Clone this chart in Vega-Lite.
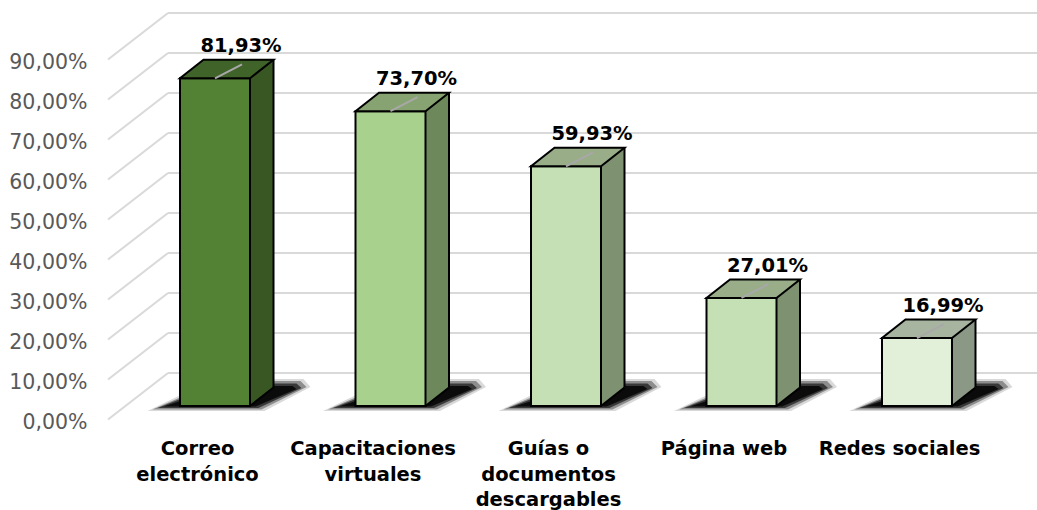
{
  "$schema": "https://vega.github.io/schema/vega-lite/v6.json",
  "width": 869,
  "height": 360,
  "autosize": "none",
  "padding": {"left": 168, "top": 13, "right": 0, "bottom": 137},
  "background": "white",
  "config": {
    "view": {"stroke": null},
    "locale": {"number": {"decimal": ",", "thousands": ".", "grouping": [3], "currency": ["", " €"]}}
  },
  "datasets": {
    "bars": [
      {"medio": "Correo electrónico", "pct": 0.8193},
      {"medio": "Capacitaciones virtuales", "pct": 0.737},
      {"medio": "Guías o documentos descargables", "pct": 0.5993},
      {"medio": "Página web", "pct": 0.2701},
      {"medio": "Redes sociales", "pct": 0.1699}
    ],
    "ticks": [
      {"t": 0}, {"t": 0.1}, {"t": 0.2}, {"t": 0.3}, {"t": 0.4},
      {"t": 0.5}, {"t": 0.6}, {"t": 0.7}, {"t": 0.8}, {"t": 0.9}
    ]
  },
  "data": {"name": "bars"},
  "encoding": {
    "x": {
      "field": "medio", "type": "nominal", "sort": null,
      "scale": {"type": "band", "range": [-58.25, 819.25], "paddingInner": 0, "paddingOuter": 0},
      "axis": {
        "title": null, "domain": false, "ticks": false, "tickSize": 0, "labelAngle": 0,
        "labelPadding": 66.5, "labelFont": "DejaVu Sans", "labelFontSize": 19.5, "labelFontWeight": "bold",
        "labelColor": "#000000", "labelLineHeight": 25.5, "labelLimit": 0,
        "labelExpr": "datum.label == 'Correo electrónico' ? ['Correo', 'electrónico'] : datum.label == 'Capacitaciones virtuales' ? ['Capacitaciones', 'virtuales'] : datum.label == 'Guías o documentos descargables' ? ['Guías o', 'documentos', 'descargables'] : datum.label"
      }
    },
    "y": {
      "field": "pct", "type": "quantitative",
      "scale": {"domain": [0, 0.9], "range": [393, 33], "nice": false, "zero": true},
      "axis": {
        "title": null, "format": ".2%", "values": [0, 0.1, 0.2, 0.3, 0.4, 0.5, 0.6, 0.7, 0.8, 0.9],
        "grid": false, "domain": false, "ticks": false, "tickSize": 0, "offset": 60,
        "labelPadding": 21, "labelOffset": 16, "labelBaseline": "middle",
        "labelFont": "DejaVu Sans", "labelFontSize": 20.5, "labelColor": "#595959"
      }
    }
  },
  "resolve": {"scale": {"color": "independent"}},
  "layer": [
    {
      "data": {"name": "ticks"},
      "mark": {"type": "rule", "color": "#d9d9d9", "strokeWidth": 2, "yOffset": -33},
      "encoding": {"y": {"field": "t", "type": "quantitative"}, "x": {"value": 0}, "x2": {"value": 869}}
    },
    {
      "data": {"name": "ticks"},
      "mark": {"type": "rule", "color": "#d9d9d9", "strokeWidth": 2, "yOffset": 13.5, "y2Offset": -33},
      "encoding": {"y": {"field": "t", "type": "quantitative"}, "y2": {"field": "t"}, "x": {"value": -60}, "x2": {"value": 0}}
    },
    {
      "mark": {"type": "point", "shape": "M -50 5 L -19 -10 L 6 -27 L 106 -27 L 113 -19 L 67 5 Z", "size": 4, "filled": true, "color": "#000000", "opacity": 0.15, "strokeWidth": 0},
      "encoding": {"y": {"datum": 0}}
    },
    {
      "mark": {"type": "point", "shape": "M -45 3.5 L -17.5 -8.5 L 7 -25 L 103 -25 L 109 -19 L 64 3.5 Z", "size": 4, "filled": true, "color": "#000000", "opacity": 0.35, "strokeWidth": 0},
      "encoding": {"y": {"datum": 0}}
    },
    {
      "mark": {"type": "point", "shape": "M -40 2 L -16 -7.5 L 10 -22.5 L 99 -22.5 L 104 -18 L 61 2 Z", "size": 4, "filled": true, "color": "#000000", "opacity": 0.6, "strokeWidth": 0},
      "encoding": {"y": {"datum": 0}}
    },
    {
      "mark": {"type": "point", "shape": "M -34 0.5 L -14 -6 L 14 -20 L 95 -20 L 99 -17 L 58 0.5 Z", "size": 4, "filled": true, "color": "#000000", "opacity": 0.8, "strokeWidth": 0},
      "encoding": {"y": {"datum": 0}}
    },
    {
      "mark": {"type": "bar", "width": 23.5, "xOffset": 64.25, "yOffset": -18.5, "y2Offset": -18.5, "strokeWidth": 0},
      "encoding": {
        "y2": {"datum": 0},
        "color": {"field": "medio", "type": "nominal", "legend": null,
          "scale": {"domain": ["Correo electrónico", "Capacitaciones virtuales", "Guías o documentos descargables", "Página web", "Redes sociales"],
                    "range": ["#385723", "#6d895b", "#7e9170", "#7e9170", "#8b9886"]}}
      }
    },
    {
      "mark": {"type": "point", "shape": "M 52.5 0 L 76 -18.5 L 76 -20 L 52.5 -20 Z", "size": 4, "filled": true, "opacity": 1, "strokeWidth": 0},
      "encoding": {
        "y": {"datum": 0},
        "color": {"field": "medio", "type": "nominal", "legend": null,
          "scale": {"domain": ["Correo electrónico", "Capacitaciones virtuales", "Guías o documentos descargables", "Página web", "Redes sociales"],
                    "range": ["#385723", "#6d895b", "#7e9170", "#7e9170", "#8b9886"]}}
      }
    },
    {
      "mark": {"type": "rule", "xOffset": 76, "yOffset": -18.5, "y2Offset": -18.5, "color": "#000000", "strokeWidth": 2},
      "encoding": {"y2": {"datum": 0}}
    },
    {
      "mark": {"type": "point", "shape": "M 52.5 0 L 76 -18.5", "size": 4, "filled": false, "opacity": 1, "stroke": "#000000", "strokeWidth": 2},
      "encoding": {"y": {"datum": 0}}
    },
    {
      "mark": {"type": "bar", "width": 70, "xOffset": 17.5, "stroke": "#000000", "strokeWidth": 2, "strokeJoin": "miter"},
      "encoding": {
        "color": {"field": "medio", "type": "nominal", "legend": null,
          "scale": {"domain": ["Correo electrónico", "Capacitaciones virtuales", "Guías o documentos descargables", "Página web", "Redes sociales"],
                    "range": ["#548235", "#a9d18e", "#c5e0b4", "#c5e0b4", "#e2f0d9"]}}
      }
    },
    {
      "mark": {"type": "point", "shape": "M -17.5 0 L 52.5 0 L 76 -18.5 L 6 -18.5 Z", "size": 4, "filled": true, "opacity": 1, "stroke": "#000000", "strokeWidth": 2, "strokeJoin": "miter"},
      "encoding": {
        "color": {"field": "medio", "type": "nominal", "legend": null,
          "scale": {"domain": ["Correo electrónico", "Capacitaciones virtuales", "Guías o documentos descargables", "Página web", "Redes sociales"],
                    "range": ["#40632a", "#87a371", "#98ad88", "#98ad88", "#a7b5a0"]}}
      }
    },
    {
      "mark": {"type": "point", "shape": "M 17.5 0 L 44.5 -14", "size": 4, "filled": false, "opacity": 1, "stroke": "#a8a8a8", "strokeWidth": 2}
    },
    {
      "mark": {"type": "text", "dx": 43.5, "dy": -26, "align": "center", "baseline": "alphabetic", "font": "DejaVu Sans", "fontSize": 19.5, "fontWeight": "bold", "color": "#000000"},
      "encoding": {"text": {"field": "pct", "type": "quantitative", "format": ".2%"}}
    }
  ]
}
